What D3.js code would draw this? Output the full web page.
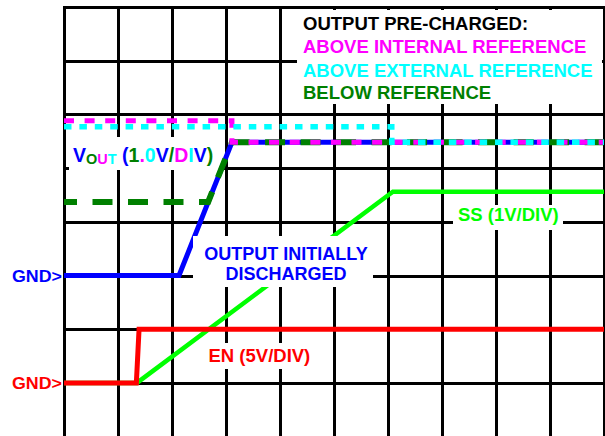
<!DOCTYPE html>
<html>
<head>
<meta charset="utf-8">
<script src="https://cdn.jsdelivr.net/npm/d3@7"></script>
<style>
  html, body { margin: 0; padding: 0; background: #fff; }
  svg { display: block; }
  text { font-family: "Liberation Sans", Arial, sans-serif; font-weight: bold; }
</style>
</head>
<body>
<svg id="chart" width="605" height="436"></svg>
<script>
// grid divisions (10 across, 8 down)
var xDivs = d3.range(0, 11)
var yDivs = d3.range(0, 9)

// traces: [time (div), volts]
var ss = [[0, 0], [1.35, 0], [6.09, 3.56], [10, 3.56]]
var en = [[0, 0], [1.34, 0], [1.39, 5], [10, 5]]
var voutDischarged = [[0, 0], [2.13, 0], [3.11, 2.48], [10, 2.48]]
var voutBelowRef = [[0, 1.37], [2.67, 1.37], [3.11, 2.48], [10, 2.48]]
var voutAboveInt = [[0, 2.88], [3.11, 2.88], [3.11, 2.48], [10, 2.48]]
var voutAboveExt = [[0, 2.77], [6.07, 2.77], [6.07, 2.48], [10, 2.48]]

var legendLabels = ['OUTPUT PRE-CHARGED:', 'ABOVE INTERNAL REFERENCE', 'ABOVE EXTERNAL REFERENCE', 'BELOW REFERENCE']
var legendColors = ['#000', '#ff00ff', '#00ffff', '#008000']
var voutChars = ['V', 'O', 'U', 'T', ' (', '1', '.', '0', 'V', '/', 'D', 'I', 'V', ')']
var voutCycle = ['#0000ff', '#008000', '#ff00ff', '#00ffff']

var svg = d3.select('#chart')

var x = d3.scaleLinear().domain([0, 10]).range([64, 604])
var grid = d3.scaleLinear().domain([0, 8]).range([7, 436.6])
// channel scales: GND position and volts per division
var yVout = d3.scaleLinear().domain([0, 1]).range([grid(5), grid(4)])
var yEn = d3.scaleLinear().domain([0, 5]).range([grid(7), grid(6)])
var ySs = d3.scaleLinear().domain([0, 1]).range([grid(7), grid(6)])

// snap 3px lines onto whole pixels
function snap (v) { return Math.round(v) + 0.5 }

//grid
var g = svg.append('g').attr('stroke', '#000').attr('stroke-width', 3)
g.selectAll('.vline').data(xDivs).enter().append('line')
  .attr('class', 'vline')
  .attr('x1', function (d) { return snap(x(d)) }).attr('x2', function (d) { return snap(x(d)) })
  .attr('y1', snap(grid(0)) - 1.5).attr('y2', 440)
g.selectAll('.hline').data(yDivs).enter().append('line')
  .attr('class', 'hline')
  .attr('x1', snap(x(0)) - 1.5).attr('x2', 606)
  .attr('y1', function (d) { return snap(grid(d)) }).attr('y2', function (d) { return snap(grid(d)) })

function box (x0, y0, x1, y1) {
  svg.append('rect').attr('x', x0).attr('y', y0)
    .attr('width', x1 - x0).attr('height', y1 - y0).attr('fill', '#fff')
}

// label backgrounds that sit under the traces
box(297, 10, 602, 104)
box(69, 137, 219, 170)
box(453, 205, 563, 230)
box(200, 343, 318, 369)

function trace (data, yScale, color, width, dash, offset) {
  var line = d3.line().x(function (d) { return x(d[0]) }).y(function (d) { return yScale(d[1]) })
  svg.append('path')
    .attr('d', line(data))
    .attr('fill', 'none')
    .attr('stroke', color)
    .attr('stroke-width', width)
    .attr('stroke-linejoin', 'miter')
    .attr('stroke-dasharray', dash || null)
    .attr('stroke-dashoffset', offset || 0)
}

trace(ss, ySs, '#00ff00', 4.5)
trace(en, yEn, '#ff0000', 5)
trace(voutDischarged, yVout, '#0000ff', 5)
trace(voutBelowRef, yVout, '#008000', 6, '20,15.5', 7)
trace(voutAboveInt, yVout, '#ff00ff', 5, '10,10.6', 0)
trace(voutAboveExt, yVout, '#00ffff', 5.5, '7.5,7.9', 0)

// this label hides part of the SS ramp
box(193, 236, 373, 287)

//texts
svg.selectAll('.legend').data(legendLabels).enter().append('text')
  .attr('class', 'legend')
  .attr('x', 303)
  .attr('y', function (d, i) { return [30, 53, 77, 99][i] })
  .attr('font-size', 18.5)
  .attr('fill', function (d, i) { return legendColors[i] })
  .text(function (d) { return d })

var vt = svg.append('text').attr('x', 73).attr('y', 162).attr('font-size', 19.5)
voutChars.forEach(function (c, i) {
  var sub = i >= 1 && i <= 3
  vt.append('tspan')
    .attr('fill', voutCycle[i % 4])
    .attr('font-size', sub ? 14.5 : 19.5)
    .attr('dy', i === 1 ? 1.5 : (i === 4 ? -1.5 : 0))
    .text(c)
})

var dis = svg.append('text').attr('text-anchor', 'middle').attr('font-size', 18).attr('fill', '#0000ff')
dis.append('tspan').attr('x', 286).attr('y', 260).text('OUTPUT INITIALLY')
dis.append('tspan').attr('x', 286).attr('y', 280).text('DISCHARGED')

svg.append('text').attr('x', 458).attr('y', 221).attr('font-size', 18.5)
  .attr('fill', '#00ff00').text('SS (1V/DIV)')
svg.append('text').attr('x', 208.5).attr('y', 362).attr('font-size', 18.5)
  .attr('fill', '#ff0000').text('EN (5V/DIV)')

svg.append('text').attr('x', 12).attr('y', yVout(0) + 6)
  .attr('font-size', 16.5).attr('textLength', 50).attr('lengthAdjust', 'spacingAndGlyphs')
  .attr('fill', '#0000ff').text('GND>')
svg.append('text').attr('x', 12).attr('y', yEn(0) + 6)
  .attr('font-size', 16.5).attr('textLength', 50).attr('lengthAdjust', 'spacingAndGlyphs')
  .attr('fill', '#ff0000').text('GND>')
</script>
</body>
</html>
